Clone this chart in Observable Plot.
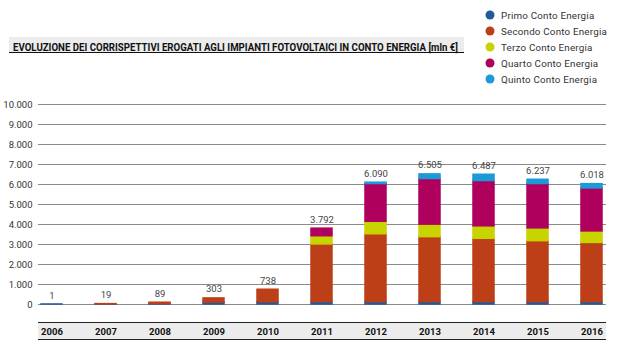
<!DOCTYPE html>
<html>
<head>
<meta charset="utf-8">
<script src="https://cdn.jsdelivr.net/npm/d3@7"></script>
<script src="https://cdn.jsdelivr.net/npm/@observablehq/plot@0.6"></script>
<style>
  html, body { margin: 0; padding: 0; background: #fff; }
  #wrap { position: relative; width: 621px; height: 354px; overflow: hidden; font-family: Roboto, "DejaVu Sans", sans-serif; }
  .abs { position: absolute; }
</style>
</head>
<body>
<div id="wrap">
  <div class="abs" id="titleband" style="left:9px;top:37px;width:455px;height:15px;background:#ececec;border-bottom:1.5px solid #111;"></div>
  <svg class="abs" id="title" style="left:0;top:0" width="480" height="60"></svg>
  <svg class="abs" id="legend" style="left:470px;top:0" width="151" height="92"></svg>
  <div class="abs" id="xband" style="left:38px;top:322px;width:568px;height:16px;background:#ececec;border-top:1.5px solid #222;border-bottom:1.5px solid #222;"></div>
  <div class="abs" id="chart" style="left:0;top:90px;"></div>
</div>
<script>
const titleText = "EVOLUZIONE DEI CORRISPETTIVI EROGATI AGLI IMPIANTI FOTOVOLTAICI IN CONTO ENERGIA [mln €]";
const years = ["2006","2007","2008","2009","2010","2011","2012","2013","2014","2015","2016"];
const seriesNames = ["Primo Conto Energia","Secondo Conto Energia","Terzo Conto Energia","Quarto Conto Energia","Quinto Conto Energia"];
const seriesColors = ["#245a99","#bd3f17","#c8d400","#b0005e","#1c9ad8"];
const primo   = [1, 6, 30, 95, 110, 120, 120, 120, 120, 120, 120];
const secondo = [0, 13, 59, 208, 628, 2884, 3392, 3249, 3165, 3047, 2959];
const terzo   = [0, 0, 0, 0, 0, 410, 624, 624, 624, 640, 575];
const quarto  = [0, 0, 0, 0, 0, 378, 1888, 2282, 2266, 2217, 2151];
const quinto  = [0, 0, 0, 0, 0, 0, 66, 230, 312, 213, 213];
const totals  = [1, 19, 89, 303, 738, 3792, 6090, 6505, 6487, 6237, 6018];
const yTicks  = [0,1000,2000,3000,4000,5000,6000,7000,8000,9000,10000];

const seriesValues = [primo, secondo, terzo, quarto, quinto];
const rows = [];
seriesNames.forEach((s, i) => {
  years.forEach((yr, j) => {
    const v = seriesValues[i][j];
    if (v > 0) rows.push({year: yr, series: s, value: v});
  });
});
const totalRows = years.map((yr, j) => ({year: yr, total: totals[j]}));

const loc = d3.formatLocale({decimal: ",", thousands: ".", grouping: [3], currency: ["", "€"]});
const fmt = loc.format(",d");

// Title
const tsvg = d3.select("#title");
tsvg.append("text")
  .attr("x", 13).attr("y", 50.5)
  .attr("textLength", 445).attr("lengthAdjust", "spacingAndGlyphs")
  .attr("font-family", "Roboto, sans-serif")
  .attr("font-weight", "bold").attr("font-size", 10).attr("fill", "#111")
  .text(titleText);

// Legend
const lsvg = d3.select("#legend");
seriesNames.forEach((s, i) => {
  const g = lsvg.append("g").attr("transform", `translate(0,${15 + i * 16})`);
  g.append("circle").attr("cx", 20).attr("cy", 0).attr("r", 4.5).attr("fill", seriesColors[i]);
  g.append("text").attr("x", 31).attr("y", 3.5)
    .attr("font-family", "Roboto, sans-serif").attr("font-size", 9.8).attr("letter-spacing", 0.2).attr("fill", "#333")
    .text(s);
});

const chart = Plot.plot({
  width: 621,
  height: 264,
  marginTop: 14,
  marginBottom: 50,
  marginLeft: 38,
  marginRight: 15,
  style: {fontFamily: "Roboto, sans-serif", fontSize: "9.5px", color: "#333", background: "transparent"},
  x: {type: "band", domain: years, paddingInner: 0.61, paddingOuter: 0, label: null},
  y: {domain: [0, 10000], label: null},
  color: {domain: seriesNames, range: seriesColors},
  marks: [
    Plot.gridY(yTicks, {stroke: "#8a8a8a", strokeOpacity: 1, strokeWidth: 1}),
    Plot.axisY(yTicks, {tickSize: 0, tickPadding: 6, tickFormat: fmt, label: null, fill: "#333"}),
    Plot.axisX({tickSize: 0, tickPadding: 24, fontWeight: "bold", fill: "#111", label: null}),
    Plot.barY(rows, {x: "year", y: "value", fill: "series", stroke: "series", strokeWidth: 1.5, order: seriesNames}),
    Plot.text(totalRows, {x: "year", y: "total", text: d => fmt(d.total), dy: -9, fill: "#444", fontSize: 9.5})
  ]
});
document.getElementById("chart").appendChild(chart);
</script>
</body>
</html>
